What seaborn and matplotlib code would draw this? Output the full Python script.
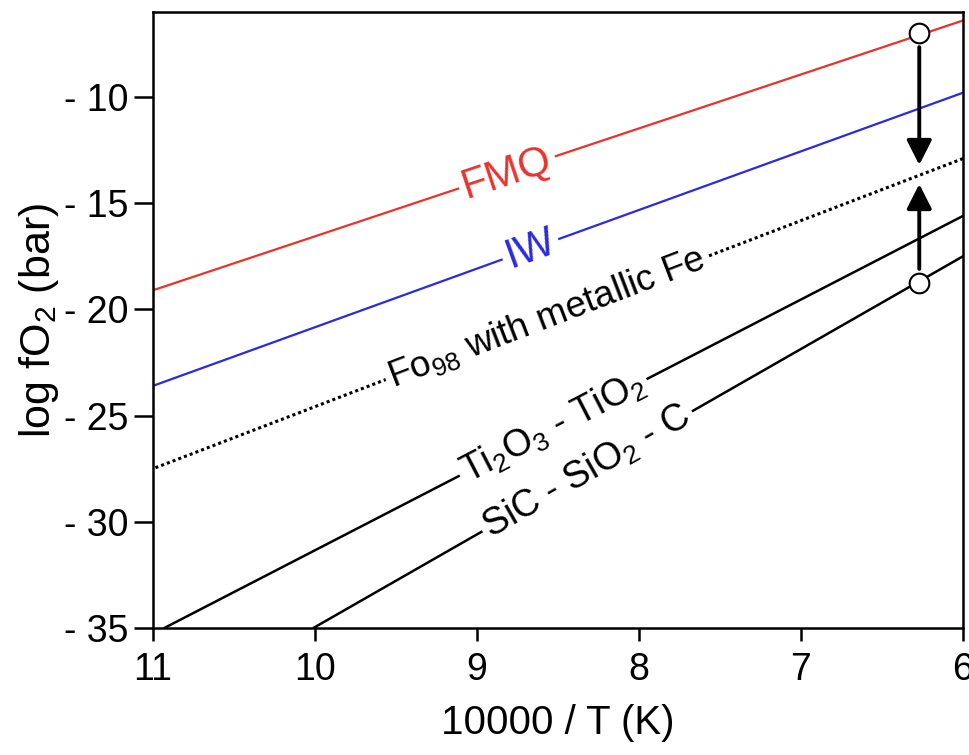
import numpy as np
import pandas as pd
import matplotlib
matplotlib.use("Agg")
import matplotlib.pyplot as plt
import seaborn as sns

# ---------------- data ----------------
x_ends = [11, 6]
fmq = [-19.1, -6.4]
iw = [-23.6, -9.8]
fo98 = [-27.5, -12.9]
ti_x = [10.93, 6]
ti = [-35.0, -15.6]
sic_x = [10.01, 6]
sic = [-35.0, -17.5]

point_x = [6.27, 6.27]
point_y = [-7.0, -18.75]
arrow_tip_y = [-13.2, -14.1]

xticks = [11, 10, 9, 8, 7, 6]
yticks = [-10, -15, -20, -25, -30, -35]
ytick_labels = ["- 10", "- 15", "- 20", "- 25", "- 30", "- 35"]

# ---------------- style ----------------
sns.set_style("ticks")
plt.rcParams["font.family"] = ["Liberation Sans", "DejaVu Sans"]
plt.rcParams["mathtext.fontset"] = "custom"
plt.rcParams["mathtext.rm"] = "Liberation Sans"
plt.rcParams["mathtext.it"] = "Liberation Sans:italic"
plt.rcParams["mathtext.bf"] = "Liberation Sans:bold"
plt.rcParams["text.color"] = "black"
plt.rcParams["axes.labelcolor"] = "black"
plt.rcParams["xtick.color"] = "black"
plt.rcParams["ytick.color"] = "black"

fig = plt.figure(figsize=(9.69, 7.55), dpi=100)
ax = fig.add_axes([153 / 969, 1 - 628 / 755, (963 - 153) / 969, (628 - 12) / 755])
ax.set_xlim(11, 6)
ax.set_ylim(-35, -6)

red = "#e8332c"
blue = "#2a2ae0"

sns.lineplot(x=x_ends, y=fmq, color=red, lw=1.6, ax=ax)
sns.lineplot(x=x_ends, y=iw, color=blue, lw=1.6, ax=ax)
sns.lineplot(x=x_ends, y=fo98, color="black", lw=2.2, ax=ax, linestyle=(0, (1, 1)))
sns.lineplot(x=ti_x, y=ti, color="black", lw=1.8, ax=ax)
sns.lineplot(x=sic_x, y=sic, color="black", lw=1.8, ax=ax)

# arrows
for y0, y1 in zip(point_y, arrow_tip_y):
    ax.annotate("", xy=(point_x[0], y1), xytext=(point_x[0], y0),
                arrowprops=dict(arrowstyle="-|>,head_length=0.75,head_width=0.38",
                                lw=2.8, color="black", shrinkA=10, shrinkB=0,
                                mutation_scale=20), zorder=4)

sns.scatterplot(x=point_x, y=point_y, s=200, color="white", edgecolor="black",
                linewidth=1.5, ax=ax, zorder=5, clip_on=False)

# inline labels
labels = [
    ("FMQ", x_ends, fmq, 8.815, red, 30),
    ("IW", x_ends, iw, 8.67, blue, 30),
    ("Fo$_{98}$ with metallic Fe", x_ends, fo98, 8.57, "black", 26.5),
    ("Ti$_2$O$_3$ - TiO$_2$", ti_x, ti, 8.53, "black", 27),
    ("SiC - SiO$_2$ - C", sic_x, sic, 8.32, "black", 27),
]
fig.canvas.draw()
for txt, xs, ys, xc, col, fs in labels:
    yc = np.interp(xc, xs[::-1], ys[::-1])
    p0 = ax.transData.transform((xs[0], ys[0]))
    p1 = ax.transData.transform((xs[1], ys[1]))
    ang = np.degrees(np.arctan2(p1[1] - p0[1], p1[0] - p0[0]))
    ax.text(xc, yc, txt, color=col, fontsize=fs, rotation=ang,
            rotation_mode="anchor", ha="center", va="center", zorder=3,
            bbox=dict(facecolor="white", edgecolor="none", pad=3))

ax.set_xticks(xticks)
ax.set_xticklabels([str(v) for v in xticks])
ax.set_yticks(yticks)
ax.set_yticklabels(ytick_labels)
ax.tick_params(axis="both", labelsize=27, width=1.8, colors="black")
ax.tick_params(axis="y", length=14, pad=4)
ax.tick_params(axis="x", length=9, pad=8)
for s in ax.spines.values():
    s.set_linewidth(1.8)
    s.set_color("black")

ax.set_xlabel("10000 / T (K)", fontsize=29, labelpad=12, color="black")
ax.set_ylabel("log fO$_2$ (bar)", fontsize=31, labelpad=2, color="black")

fig.savefig("out.png", dpi=100)
